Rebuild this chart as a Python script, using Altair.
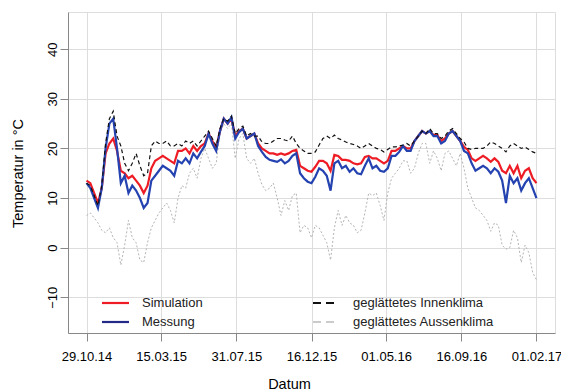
import altair as alt
import pandas as pd

# weekly samples starting 29.10.2014 (119 weeks -> 01.02.2017)
start_date = "2014-10-29"
n_weeks = 119

simulation = [13.5, 13, 11, 9, 12, 19, 21, 22, 19.5, 15.5, 15, 14, 14.5, 13.5, 12.5, 11, 12.5, 16, 17.5, 18,
              18.5, 18, 17.5, 17, 19.5, 19.5, 20, 19, 20.5, 19.5,
              20.5, 21, 23, 21.5, 20, 23.5, 26, 25, 26, 22.5, 23.5, 24, 22, 22.5, 23, 21, 20, 19.5, 19, 19,
              18.7, 19, 18.7, 19, 19.5, 19.7, 16.5, 16, 15.5, 15.3,
              16.3, 17.5, 17.5, 17, 15.5, 18.7, 18.5, 17.7, 17.7, 17.5, 17, 16.8, 17, 18.3, 18.5, 18, 18, 17.5, 17, 17.5,
              19.5, 19.5, 20, 20.5, 20, 20, 21.5, 22.5, 23.5, 23,
              23.5, 22.7, 22.7, 21.5, 22, 23, 23.5, 22.5, 21.5, 20.3, 19.7, 18, 17.5, 18, 18.5, 18, 17.3, 18, 17.3, 15.5,
              15, 16.5, 15, 16.5, 14, 15.5, 16, 14, 13]

messung = [13, 12, 10, 8, 12, 20, 25, 26, 20, 13, 14.5, 11, 12.5, 11.5, 10, 8, 9, 13.5, 14.5, 15.5,
           16.5, 16, 15.5, 14.5, 17.5, 17, 18, 17, 19, 18,
           19.3, 20.5, 23, 21, 19.5, 23.5, 26, 25, 26.3, 22, 23.3, 24, 22, 22.5, 23, 20.5, 19.3, 18.3, 17.7, 17.5,
           17.3, 17.8, 17, 17.5, 18.5, 19, 15, 14, 13.3, 13,
           14.3, 16, 15.5, 14.5, 11.5, 17, 17.5, 16, 16.5, 15.3, 16, 15, 14.8, 16.5, 18, 16, 16.5, 15.5, 15.3, 16,
           18.5, 18.5, 19.3, 20.5, 19.5, 19.5, 21.5, 22.5, 23.5, 23,
           23.5, 22.5, 22.5, 21, 21.5, 23, 23.5, 22.5, 21.5, 19.5, 19, 17, 15.5, 16, 16.5, 16, 15, 16, 15.3, 13.5,
           9, 14.5, 13, 14, 11.5, 13, 14, 12, 10]

innenklima = [13, 12.5, 10.5, 8.5, 12.5, 21, 26, 27.5, 22.5, 20.5, 17, 15.5, 17, 19, 16.5, 14.5, 15, 20.5, 21.5, 21,
              21, 21.5, 20.5, 20.5, 21, 20.5, 21.5, 21, 21.5, 20.5,
              21.5, 22.5, 23.5, 22, 20.5, 24, 26, 25.5, 26.5, 23, 24, 24.5, 22.5, 23, 22.5, 22.5, 21.3, 21, 21, 21.5,
              22, 22, 21.7, 21.5, 22.5, 21, 20, 19.5, 19, 19,
              19.3, 20.7, 22, 22.5, 22, 22.7, 22, 21.7, 21.3, 21, 20.8, 20.5, 20, 20.5, 21, 20.5, 20, 19.8, 19.3, 19.8,
              20.3, 20.3, 20.5, 20.7, 21, 20.5, 21.5, 22.5, 23.5, 23,
              24, 23, 23, 22, 22.5, 23.5, 24, 23, 22, 21.3, 20, 19.8, 20, 20, 20, 20.5, 21.3, 21, 20.5, 20,
              19.3, 20.5, 21, 20.5, 20, 20.3, 19.8, 19.3, 19]

aussenklima = [6.5, 7, 6, 5, 3.5, 3, 4, 2, 1, -3.5, 0.5, 5.5, 2, 1, -2.5, -3, 1, 4, 5.5, 7,
               8, 9, 7.5, 5, 10, 12.5, 12, 15, 16, 14,
               18, 20, 18, 16, 17, 23, 25, 24, 25, 18, 22, 23, 18, 17, 18, 15, 12.7, 11.5, 12, 13,
               10, 6.5, 9.5, 7.5, 10.5, 11, 3, 4.5, 4, 2,
               4.5, 4, 2.5, 1, -2.5, 4, 7.5, 4.5, 6.5, 5, 4.5, 3, 3.5, 7, 11, 10.5, 11, 8.5, 5.5, 11,
               14, 15, 16, 17.5, 17.5, 15, 16, 19, 21, 21,
               17, 19.5, 18, 15.5, 19, 19.5, 18, 16.5, 19, 16, 12, 10, 8, 7.5, 6.5, 5.5, 3.3, 5, 4.5, 0.5,
               -0.3, 0, 3.5, 2, -3, 0.5, -1, -5, -6.5]

tick_dates = [(2014, 10, 29), (2015, 3, 15), (2015, 7, 31), (2015, 12, 16),
              (2016, 5, 1), (2016, 9, 16), (2017, 2, 1)]
y_ticks = [-10, 0, 10, 20, 30, 40]

legend_left = ["Simulation", "Messung"]
legend_right = ["geglättetes Innenklima", "geglättetes Aussenklima"]

df = pd.DataFrame({
    "Datum": pd.date_range(start_date, periods=n_weeks, freq="7D"),
    "Simulation": simulation,
    "Messung": messung,
    "Innen": innenklima,
    "Aussen": aussenklima,
})

W, H = 487, 321
FONT = "Liberation Sans"

xscale = alt.Scale(domain=[alt.DateTime(year=2014, month=9, date=25),
                           alt.DateTime(year=2017, month=3, date=7)])
yscale = alt.Scale(domain=[-17.2, 47.5], nice=False, zero=False)

xaxis = alt.Axis(values=[alt.DateTime(year=y, month=m, date=d) for (y, m, d) in tick_dates],
                 format="%d.%m.%y", title="Datum", labelFontSize=13, titleFontSize=14.5,
                 tickSize=8, labelPadding=9, titleX=221, titleY=51, titleBaseline="middle",
                 titleFontWeight="normal", labelFlush=False, labelOverlap=False)
yaxis = alt.Axis(values=y_ticks, title="Temperatur in °C", labelAngle=-90, labelAlign="center",
                 labelBaseline="bottom", labelFontSize=13, titleFontSize=14.5, tickSize=8,
                 labelPadding=1, titleX=-50, titleY=161, titleAngle=270, titleAlign="center",
                 titleBaseline="middle", titleFontWeight="normal")

base = alt.Chart(df)

aussen = base.mark_line(color="#b4b4b4", strokeWidth=1, strokeDash=[2, 2]).encode(
    x=alt.X("Datum:T", scale=xscale, axis=xaxis),
    y=alt.Y("Aussen:Q", scale=yscale, axis=yaxis),
)
sim = base.mark_line(color="#ee1c25", strokeWidth=2.2).encode(
    x=alt.X("Datum:T", scale=xscale), y=alt.Y("Simulation:Q", scale=yscale))
mess = base.mark_line(color="#2442b0", strokeWidth=2.2).encode(
    x=alt.X("Datum:T", scale=xscale), y=alt.Y("Messung:Q", scale=yscale))
innen = base.mark_line(color="#111111", strokeWidth=1.2, strokeDash=[4, 3]).encode(
    x=alt.X("Datum:T", scale=xscale), y=alt.Y("Innen:Q", scale=yscale))

one = alt.Chart(pd.DataFrame({"k": [0]}))

def leg_line(color, x1, x2, y, dash=None, width=2.2):
    kw = dict(color=color, strokeWidth=width)
    if dash:
        kw["strokeDash"] = dash
    return one.mark_rule(**kw).encode(x=alt.value(x1), x2=alt.value(x2), y=alt.value(y))

def leg_text(label, x, y):
    return one.mark_text(align="left", baseline="middle", font=FONT, fontSize=13,
                         color="#222222").encode(x=alt.value(x), y=alt.value(y), text=alt.value(label))

legend = [
    leg_line("#ee1c25", 34, 61, 291),
    leg_line("#222a85", 34, 61, 310),
    leg_text(legend_left[0], 74, 291),
    leg_text(legend_left[1], 74, 310),
    leg_line("#111111", 245, 271, 291, dash=[8, 5], width=2),
    leg_line("#bbbbbb", 245, 271, 310, dash=[8, 5], width=1.5),
    leg_text(legend_right[0], 285, 291),
    leg_text(legend_right[1], 285, 310),
]

chart = alt.layer(aussen, sim, mess, innen, *legend).properties(
    width=W, height=H,
    autosize=alt.AutoSizeParams(type="none"),
    padding={"left": 60, "top": 4, "right": 6, "bottom": 57},
).configure_view(stroke="#111111", strokeWidth=1.5).configure_axis(
    grid=True, gridColor="#c4c4c4", gridWidth=1.3, domain=False,
    tickColor="#333333", tickWidth=1, labelColor="#222222", titleColor="#222222",
    labelFont=FONT, titleFont=FONT,
).configure(background="white")

chart.save("out.html", embed_options={"renderer": "svg", "actions": False})
